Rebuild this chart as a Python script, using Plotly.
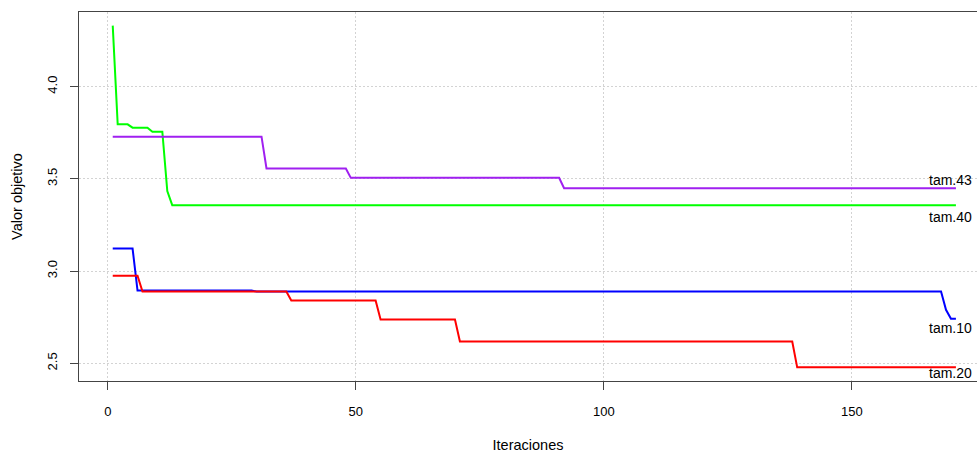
import plotly.graph_objects as go

# Iterations where each series changes (lines join consecutive points)
tam10_x = [1, 5, 6, 29, 30, 168, 169, 170, 171]
tam10_y = [3.122, 3.122, 2.894, 2.894, 2.889, 2.889, 2.790, 2.741, 2.741]

tam20_x = [1, 6, 7, 36, 37, 54, 55, 70, 71, 138, 139, 171]
tam20_y = [2.975, 2.975, 2.889, 2.889, 2.840, 2.840, 2.737, 2.737, 2.618, 2.618, 2.478, 2.478]

tam40_x = [1, 2, 4, 5, 8, 9, 11, 12, 13, 171]
tam40_y = [4.33, 3.795, 3.795, 3.777, 3.777, 3.755, 3.755, 3.433, 3.357, 3.357]

tam43_x = [1, 31, 32, 48, 49, 91, 92, 171]
tam43_y = [3.728, 3.728, 3.556, 3.556, 3.505, 3.505, 3.449, 3.449]

series_names = ["tam.10", "tam.20", "tam.40", "tam.43"]
x_ticks = [0, 50, 100, 150]
y_ticks = [2.5, 3.0, 3.5, 4.0]
label_x = 170

colors = ["#0000FF", "#FF0000", "#00FF00", "#A020F0"]
label_shift = [-9, -6, -12, 8]

series = [(tam10_x, tam10_y), (tam20_x, tam20_y), (tam40_x, tam40_y), (tam43_x, tam43_y)]

fig = go.Figure()
for (xs, ys), name, c in zip(series, series_names, colors):
    fig.add_trace(go.Scatter(x=xs, y=ys, mode="lines", name=name,
                             line=dict(color=c, width=2), showlegend=False))

font_family = "Liberation Sans, Arial, sans-serif"
for (xs, ys), name, sh in zip(series, series_names, label_shift):
    fig.add_annotation(x=label_x, y=ys[-1], text=name, showarrow=False,
                       xanchor="center", yanchor="middle", yshift=sh,
                       font=dict(family=font_family, size=14, color="#000"))

fig.update_layout(
    width=977, height=453,
    margin=dict(l=79, r=0, t=12, b=72),
    paper_bgcolor="white", plot_bgcolor="white",
    font=dict(family=font_family, size=13, color="#000"),
)
fig.update_xaxes(
    range=[-5.8, 175.25], tickvals=x_ticks, ticktext=[str(v) for v in x_ticks],
    showline=True, linecolor="#444", linewidth=1, mirror=True,
    ticks="outside", ticklen=8, tickcolor="#444",
    showgrid=True, gridcolor="#d3d3d3", griddash="2px,2px", gridwidth=1,
    zeroline=False, ticklabelstandoff=10,
    title=dict(text="Iteraciones", font=dict(size=14.5), standoff=22),
)
fig.update_yaxes(
    range=[2.404, 4.404], tickvals=y_ticks, ticktext=[f"{v:.1f}" for v in y_ticks],
    showline=True, linecolor="#444", linewidth=1, mirror=False,
    ticks="outside", ticklen=8, tickcolor="#444", tickangle=-90,
    showgrid=True, gridcolor="#d3d3d3", griddash="2px,2px", gridwidth=1,
    zeroline=False, ticklabelstandoff=8,
    title=dict(text="Valor objetivo", font=dict(size=14.5), standoff=18),
)
fig.write_html("out.html",
               config={"displayModeBar": False},
               post_script="document.body.style.margin='0';document.body.style.overflow='hidden';")
